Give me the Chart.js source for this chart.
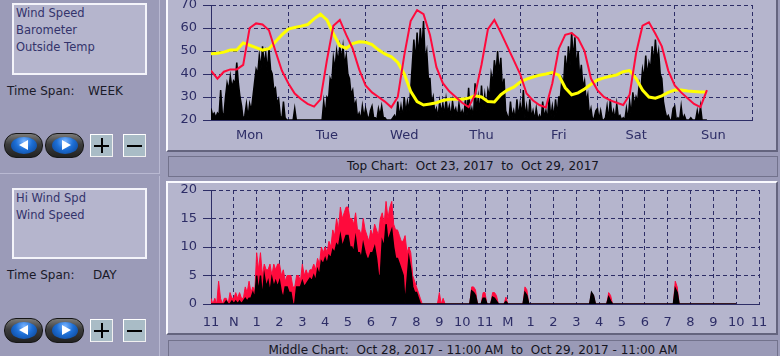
<!DOCTYPE html>
<html><head><meta charset="utf-8">
<script src="https://cdn.jsdelivr.net/npm/chart.js@4/dist/chart.umd.min.js"></script>
<style>
*{box-sizing:border-box}
html,body{margin:0;padding:0}
body{width:780px;height:356px;overflow:hidden;position:relative;background:#9b9bb8;font-family:"DejaVu Sans",sans-serif}
.lp{position:absolute;left:0;width:160px;border-right:1px solid #b9b9d2;border-bottom:1px solid #b9b9d2}
.legend{position:absolute;left:12px;width:135px;background:#b5b5cd;border:2px solid #f4f4fa;color:#33336b;font-size:11.5px;line-height:17px;padding:0 0 0 2px;white-space:pre}
.txt{position:absolute;font-size:12px;color:#1a1a28;white-space:pre;line-height:14px}
.btn{position:absolute;width:39px;height:25px;border-radius:12px;background:linear-gradient(#7a7a7a 0%,#3c3c3c 45%,#222 100%);border:1px solid #161616}
.btn .o{position:absolute;left:6px;top:3px;width:26px;height:17px;border-radius:50%;background:radial-gradient(ellipse at 50% 25%,#7ab4ff 0%,#1d6fd6 45%,#0b3f8c 100%)}
.tri{position:absolute;top:3px;width:0;height:0;border-top:5px solid transparent;border-bottom:5px solid transparent}
.bl .tri{left:8px;border-right:9px solid #fff}
.br .tri{left:10px;border-left:9px solid #fff}
.sq{position:absolute;width:23px;height:23px;background:#a9bcc6;border:1px solid #fff;border-right-color:#f0f0f0;border-bottom-color:#f0f0f0}
.sq i{position:absolute;background:#000;display:block}
.panel{position:absolute;left:166px;width:612px;background:#b5b5cd;border-left:2px solid #fafaff;border-right:2px solid #64647e;border-bottom:2px solid #64647e}
.title{position:absolute;left:168px;width:610px;height:21px;background:#9a9ab7;border:1px solid #72728c;font-size:12px;color:#141420;text-align:center;line-height:19px;white-space:pre}
canvas{position:absolute;left:169px}
</style>
</head>
<body>
<div class="lp" style="top:0;height:174px"></div>
<div class="lp" style="top:176px;height:200px"></div>

<div class="legend" style="top:3px;height:72px">Wind Speed
Barometer
Outside Temp</div>
<div class="txt" style="left:7px;top:84px">Time Span:</div>
<div class="txt" style="left:88px;top:84px">WEEK</div>
<div class="btn bl" style="left:4px;top:133px"><div class="o"><div class="tri"></div></div></div>
<div class="btn br" style="left:45px;top:133px"><div class="o"><div class="tri"></div></div></div>
<div class="sq" style="left:90px;top:134px"><i style="left:3px;top:10px;width:15px;height:2px"></i><i style="left:10px;top:3px;width:2px;height:15px"></i></div>
<div class="sq" style="left:123px;top:134px"><i style="left:3px;top:10px;width:15px;height:2px"></i></div>

<div class="legend" style="top:188px;height:71px">Hi Wind Spd
Wind Speed</div>
<div class="txt" style="left:7px;top:268px">Time Span:</div>
<div class="txt" style="left:93px;top:268px">DAY</div>
<div class="btn bl" style="left:4px;top:318px"><div class="o"><div class="tri"></div></div></div>
<div class="btn br" style="left:45px;top:318px"><div class="o"><div class="tri"></div></div></div>
<div class="sq" style="left:90px;top:319px"><i style="left:3px;top:10px;width:15px;height:2px"></i><i style="left:10px;top:3px;width:2px;height:15px"></i></div>
<div class="sq" style="left:123px;top:319px"><i style="left:3px;top:10px;width:15px;height:2px"></i></div>

<div class="panel" style="top:-2px;height:154px"></div>
<div class="title" style="top:156px">Top Chart:  Oct 23, 2017  to  Oct 29, 2017</div>
<div class="panel" style="top:181px;height:154px;border-top:2px solid #fafaff"></div>
<div class="title" style="top:340px">Middle Chart:  Oct 28, 2017 - 11:00 AM  to  Oct 29, 2017 - 11:00 AM</div>

<canvas id="top" width="606" height="158" style="top:-8px"></canvas>
<canvas id="mid" width="606" height="157" style="top:176px"></canvas>

<script>
// ---------- Top chart (week) ----------
const dayLabels = ['Mon','Tue','Wed','Thu','Fri','Sat','Sun'];
const topYMin = 20, topYMax = 70, topYStep = 10;
const tempStepHours = 2;
const outsideTemp = [
  41.5,38,41,42,42,44,60,62,61.5,59,
  50,41.5,36,31.5,29,27,25.8,29,46,61,
  63.5,57,51,42,35,32,30,28,25.5,30,
  48,63,67.8,66,57,43,36,32.5,30,27.5,
  25.6,31,44,59.5,63.5,58,52,46,40,31.5,
  28.5,26.5,25.5,36,51,57,57.8,55.5,50,38,
  33,30,28.5,27.5,26.5,31,49,61,62.5,57.5,
  52,41.5,35,32,29.5,27,25.6,33
];
const barometer = [
  48.8,49,49.5,50.4,50.4,53.5,52.5,51.5,50.4,51,
  54,57,59.5,60.2,60.8,61.5,64,66,63.5,57.5,
  52.3,51.2,53.2,54,53.8,52.8,50.5,48.7,47.5,45,
  40,32.5,28,26.5,27,27.5,28.5,29,29,29,
  29.5,30.5,30,28,27.8,31,33,34.3,36.5,37.8,
  38.7,39.5,40,40.6,39.5,34,31,31.8,33.5,35.5,
  37.4,38.3,39,39.6,41,41.5,38,33,30,29.5,
  30.5,32,33,33,32.6,32.4,32.2,32.2
];
const windStepHours = 0.5;
const windSpeedWeek = [
  25,22,23,21,23,22,33,23,22,30,
  36,33,39,34,37,36,45,36,30,26,
  20,22,27,21,27,24,30,36,42,40,
  48,42,52,44,49,41,51,42,40,33,
  34,27,29,22,20,28,21,20,20,20,
  20,20,25,20,20,20,20,20,20,20,
  20,20,20,20,20,20,20,20,20,20,
  28,22,30,29,38,36,47,42,50,45,
  52,46,52,44,48,40,38,31,33,26,
  28,21,23,20,26,21,25,22,20,24,
  26,21,21,20,25,22,26,21,21,20,
  20,20,20,21,22,20,28,21,26,21,
  30,23,28,24,33,44,55,45,58,47,
  60,50,63,46,50,38,38,27,30,23,
  25,21,28,23,27,22,29,23,26,21,
  28,23,25,21,27,22,24,21,29,22,
  34,22,25,21,36,24,30,23,35,25,
  31,24,33,30,40,36,46,40,50,40,
  47,33,38,24,22,20,28,21,24,20,
  29,21,27,22,33,21,26,20,29,21,
  24,20,25,20,22,20,28,21,24,20,
  30,21,26,21,29,22,30,30,38,36,
  48,40,52,44,58,46,56,42,50,38,
  44,34,37,28,31,22,25,20,21,24,
  25,20,24,20,20,21,26,20,29,21,
  24,20,27,21,22,20,21,20,25,20,
  28,22,32,26,30,28,36,33,42,38,
  48,39,45,42,52,44,55,46,50,40,
  38,28,24,21,22,20,20,25,26,20,
  21,20,26,20,22,20,20,20,21,20,
  20,20,24,20,26,20,20,20,20
];

// ---------- Middle chart (day) ----------
const hourLabels = ['11','N','1','2','3','4','5','6','7','8','9','10','11','M','1','2','3','4','5','6','7','8','9','10','11'];
const midYMin = 0, midYMax = 20, midYStep = 5;
const midStepMinutes = 5;
const hiWindSpd = [
  1,0,1,0,4,1,0,1,1,0,2,1,
  1,2,1,2,1,1,3,2,4,2,3,2,
  9,6,9,5,7,6,6,7,5,7,6,7,
  7,5,6,4,5,5,5,3,3,5,5,4,
  7,5,6,5,6,6,7,6,8,7,10,9,
  10,9,11,10,13,12,15,13,17,15,16,17,
  17,15,15,14,16,13,13,12,15,13,12,11,
  13,12,14,13,12,15,16,14,18,15,17,18,
  14,13,13,12,11,11,12,9,10,9,5,4,
  3,2,1,0,0,0,0,0,0,0,0,0,
  2,0,1,0,0,0,0,0,0,0,0,0,
  0,0,0,0,0,3,3,2.5,0,0,0,2,
  2,0,0,0,2,2,1.5,0,0,0,0,1.2,
  0,0,0,0,0,0,0,0,0,3,2.5,0,
  0,0,0,0,0,0,0,0,0,0,0,0,
  0,0,0,0,0,0,0,0,0,0,0,0,
  0,0,0,0,0,0,0,0,2,1.5,0,0,
  0,0,0,0,0,2,1.5,0,0,0,0,0,
  0,0,0,0,0,0,0,0,0,0,0,0,
  0,0,0,0,0,0,0,0,0,0,0,0,
  0,0,0,0,4,3,0,0,0,0,0,0,
  0,0,0,0,0,0,0,0,0,0,0,0,
  0,0,0,0,0,0,0,0,0,0,0,0,
  0
];
const windSpeedDay = [
  0,0,0,0,0,0,0,0,0.5,0,0,0.5,
  0,0.5,0,0.5,0,0.5,1,0.5,1,1,2,1,
  5,2,5,1,5,3,4,2,4.5,3,4,3,
  4,2,1,3,3,2,2,0,0,3,3,3,
  4,3,3.5,4,4.5,4,5,4,6,5,7.5,7,
  8,7,8.5,8,9.5,9,10.5,10,12,10,11,12,
  12,10,10,9,11.5,9,9,8,10.5,9,8,8,
  9,9,10,8,5,5,11,10,14,11,12,13,
  10,8,8,7,6,5,0,4,8,6,3,2,
  2,1,0,0,0,0,0,0,0,0,0,0,
  0,0,0,0,0,0,0,0,0,0,0,0,
  0,0,0,0,0,2.3,2,1.5,0,0,0,1,
  1,0,0,0,1.2,1,0.5,0,0,0,0,0.4,
  0,0,0,0,0,0,0,0,0,2,1.5,0,
  0,0,0,0,0,0,0,0,0,0,0,0,
  0,0,0,0,0,0,0,0,0,0,0,0,
  0,0,0,0,0,0,0,0,2,1.5,0,0,
  0,0,0,0,0,1.2,0.5,0,0,0,0,0,
  0,0,0,0,0,0,0,0,0,0,0,0,
  0,0,0,0,0,0,0,0,0,0,0,0,
  0,0,0,0,2.7,2,0,0,0,0,0,0,
  0,0,0,0,0,0,0,0,0,0,0,0,
  0,0,0,0,0,0,0,0,0,0,0,0,
  0
];

const navy = '#2d2d66';
const red = '#ff0a3c';
const tickFont = {family:'DejaVu Sans', size:13};
Chart.defaults.font.family = 'DejaVu Sans';

const toPts = (arr, stepHours, unitHours) => arr.map((v,i)=>({x: i*stepHours/unitHours, y: v}));

function yAxis(min, max, step){
  return {
    type:'linear', min, max,
    ticks:{stepSize:step, color:navy, font:tickFont, padding:6},
    grid:{color:navy, lineWidth:1, tickLength:8, tickColor:navy, tickBorderDash:[]},
    border:{color:navy, width:1, dash:[4,3]},
    afterFit: s => { s.width = 42; s.paddingTop = 0; s.paddingBottom = 0; }
  };
}

new Chart(document.getElementById('top'), {
  type:'line',
  data:{datasets:[
    {label:'Outside Temp', data:toPts(outsideTemp, tempStepHours, 24), borderColor:red, borderWidth:2, pointRadius:0, tension:0, fill:false},
    {label:'Barometer', data:toPts(barometer, tempStepHours, 24), borderColor:'#ffff00', borderWidth:3, pointRadius:0, tension:0, fill:false},
    {label:'Wind Speed', data:toPts(windSpeedWeek, windStepHours, 24), borderColor:'#000', backgroundColor:'#000', borderWidth:1.5, pointRadius:0, tension:0, fill:'start'}
  ]},
  options:{
    responsive:false, animation:false, events:[],
    layout:{padding:{left:0,right:23,top:13,bottom:0}},
    plugins:{legend:{display:false}, tooltip:{enabled:false}},
    scales:{
      x:{type:'linear', min:0, max:7,
        ticks:{stepSize:0.5, autoSkip:false, maxRotation:0, minRotation:0, color:navy, font:tickFont, padding:8,
          callback: v => Number.isInteger(v) ? '' : dayLabels[Math.floor(v)]},
        grid:{color: c => (c.tick && Number.isInteger(c.tick.value)) ? navy : 'rgba(0,0,0,0)', drawTicks:false},
        border:{color:navy, width:1, dash:[4,3]},
        afterFit: s => { s.height = 30; s.paddingLeft = 0; s.paddingRight = 0; }
      },
      y: yAxis(topYMin, topYMax, topYStep)
    }
  }
});

new Chart(document.getElementById('mid'), {
  type:'line',
  data:{datasets:[
    {label:'Wind Speed', data:toPts(windSpeedDay, midStepMinutes, 60), borderColor:'#000', backgroundColor:'#000', borderWidth:1.5, pointRadius:0, tension:0, fill:'start'},
    {label:'Hi Wind Spd', data:toPts(hiWindSpd, midStepMinutes, 60), borderColor:red, backgroundColor:red, borderWidth:1, pointRadius:0, tension:0, fill:'start'}
  ]},
  options:{
    responsive:false, animation:false, events:[],
    layout:{padding:{left:0,right:16,top:14,bottom:0}},
    plugins:{legend:{display:false}, tooltip:{enabled:false}},
    scales:{
      x:{type:'linear', min:0, max:24,
        ticks:{stepSize:1, autoSkip:false, maxRotation:0, minRotation:0, color:navy, font:tickFont, padding:11,
          callback: v => hourLabels[v] ?? ''},
        grid:{color:navy, drawTicks:false},
        border:{color:navy, width:1, dash:[4,3]},
        afterFit: s => { s.height = 29; s.paddingLeft = 0; s.paddingRight = 0; }
      },
      y: yAxis(midYMin, midYMax, midYStep)
    }
  }
});
</script>
</body></html>
